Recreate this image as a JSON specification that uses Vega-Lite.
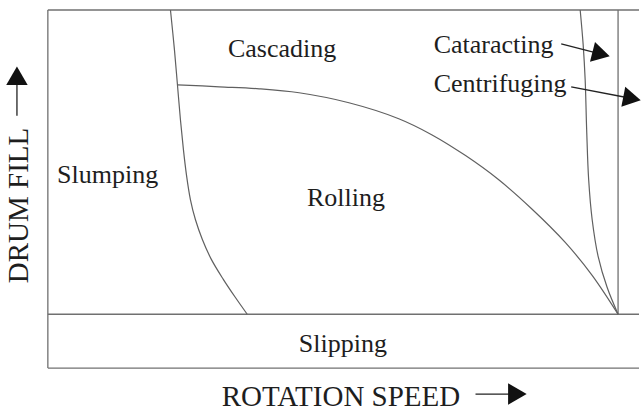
{
  "$schema": "https://vega.github.io/schema/vega-lite/v6.json",
  "width": 641,
  "height": 412,
  "padding": 0,
  "autosize": {"type": "fit", "contains": "padding"},
  "background": "white",
  "config": {"view": {"stroke": null}},
  "datasets": {
    "frame": [
      {"part": "top", "x": 48, "y": 10, "x2": 641, "y2": 10},
      {"part": "left", "x": 48, "y": 10, "x2": 48, "y2": 369},
      {"part": "bottom", "x": 48, "y": 369, "x2": 641, "y2": 369},
      {"part": "slipping limit", "x": 48, "y": 315, "x2": 641, "y2": 315},
      {"part": "critical speed", "x": 620, "y": 10, "x2": 620, "y2": 315}
    ],
    "curves": [
      {"curve": "slumping", "i": 0, "x": 171, "y": 10},
      {"curve": "slumping", "i": 1, "x": 175, "y": 50},
      {"curve": "slumping", "i": 2, "x": 178, "y": 85},
      {"curve": "slumping", "i": 3, "x": 181, "y": 120},
      {"curve": "slumping", "i": 4, "x": 184, "y": 150},
      {"curve": "slumping", "i": 5, "x": 187, "y": 175},
      {"curve": "slumping", "i": 6, "x": 191, "y": 200},
      {"curve": "slumping", "i": 7, "x": 196, "y": 220},
      {"curve": "slumping", "i": 8, "x": 203, "y": 240},
      {"curve": "slumping", "i": 9, "x": 212, "y": 260},
      {"curve": "slumping", "i": 10, "x": 224, "y": 280},
      {"curve": "slumping", "i": 11, "x": 236, "y": 298},
      {"curve": "slumping", "i": 12, "x": 248, "y": 315},
      {"curve": "rolling", "i": 0, "x": 178, "y": 85},
      {"curve": "rolling", "i": 1, "x": 220, "y": 87},
      {"curve": "rolling", "i": 2, "x": 260, "y": 89},
      {"curve": "rolling", "i": 3, "x": 300, "y": 93},
      {"curve": "rolling", "i": 4, "x": 350, "y": 103},
      {"curve": "rolling", "i": 5, "x": 400, "y": 119},
      {"curve": "rolling", "i": 6, "x": 433, "y": 135},
      {"curve": "rolling", "i": 7, "x": 467, "y": 156},
      {"curve": "rolling", "i": 8, "x": 500, "y": 180},
      {"curve": "rolling", "i": 9, "x": 533, "y": 209},
      {"curve": "rolling", "i": 10, "x": 567, "y": 243},
      {"curve": "rolling", "i": 11, "x": 594, "y": 276},
      {"curve": "rolling", "i": 12, "x": 620, "y": 315},
      {"curve": "cataracting", "i": 0, "x": 582, "y": 10},
      {"curve": "cataracting", "i": 1, "x": 585, "y": 45},
      {"curve": "cataracting", "i": 2, "x": 587, "y": 80},
      {"curve": "cataracting", "i": 3, "x": 588.5, "y": 130},
      {"curve": "cataracting", "i": 4, "x": 590.5, "y": 180},
      {"curve": "cataracting", "i": 5, "x": 594, "y": 220},
      {"curve": "cataracting", "i": 6, "x": 600, "y": 257},
      {"curve": "cataracting", "i": 7, "x": 609, "y": 288},
      {"curve": "cataracting", "i": 8, "x": 620, "y": 315}
    ],
    "shafts": [
      {"arrow": "cataracting", "x": 563, "y": 44, "x2": 600, "y2": 53.5},
      {"arrow": "centrifuging", "x": 573, "y": 87, "x2": 630, "y2": 98},
      {"arrow": "speed", "x": 477, "y": 395, "x2": 514, "y2": 395},
      {"arrow": "fill", "x": 17, "y": 116, "x2": 17, "y2": 80}
    ],
    "headCat": [{"x": 603, "y": 54.2}],
    "headCen": [{"x": 634, "y": 98.7}],
    "headSpeed": [{"x": 519, "y": 395}],
    "headFill": [{"x": 17, "y": 76}],
    "regions": [
      {"label": "Cascading", "x": 283, "y": 57},
      {"label": "Slumping", "x": 108, "y": 183},
      {"label": "Rolling", "x": 347, "y": 207},
      {"label": "Slipping", "x": 344, "y": 353}
    ],
    "pointers": [
      {"label": "Cataracting", "x": 435, "y": 53},
      {"label": "Centrifuging", "x": 435, "y": 92}
    ],
    "xtitle": [{"label": "ROTATION SPEED", "x": 342, "y": 407}],
    "ytitle": [{"label": "DRUM FILL", "x": 28, "y": 206}]
  },
  "encoding": {
    "x": {"field": "x", "type": "quantitative", "scale": {"domain": [0, 641], "nice": false, "zero": false}, "axis": null},
    "y": {"field": "y", "type": "quantitative", "scale": {"domain": [0, 412], "nice": false, "zero": false, "reverse": true}, "axis": null}
  },
  "layer": [
    {
      "data": {"name": "frame"},
      "mark": {"type": "rule", "stroke": "#707070", "strokeWidth": 1.3},
      "encoding": {"x2": {"field": "x2"}, "y2": {"field": "y2"}}
    },
    {
      "data": {"name": "curves"},
      "mark": {"type": "line", "stroke": "#606060", "strokeWidth": 1.2, "interpolate": "catmull-rom"},
      "encoding": {"detail": {"field": "curve"}, "order": {"field": "i", "type": "quantitative"}}
    },
    {
      "data": {"name": "shafts"},
      "mark": {"type": "rule", "stroke": "#222222", "strokeWidth": 1.3},
      "encoding": {"x2": {"field": "x2"}, "y2": {"field": "y2"}}
    },
    {
      "data": {"name": "headCat"},
      "mark": {"type": "point", "shape": "triangle-right", "filled": true, "color": "#111111", "opacity": 1, "size": 420, "angle": 14}
    },
    {
      "data": {"name": "headCen"},
      "mark": {"type": "point", "shape": "triangle-right", "filled": true, "color": "#111111", "opacity": 1, "size": 420, "angle": 11}
    },
    {
      "data": {"name": "headSpeed"},
      "mark": {"type": "point", "shape": "triangle-right", "filled": true, "color": "#111111", "opacity": 1, "size": 460}
    },
    {
      "data": {"name": "headFill"},
      "mark": {"type": "point", "shape": "triangle-up", "filled": true, "color": "#111111", "opacity": 1, "size": 460}
    },
    {
      "data": {"name": "regions"},
      "mark": {"type": "text", "font": "Liberation Serif", "fontSize": 26, "color": "#1e1e1e", "align": "center", "baseline": "alphabetic"},
      "encoding": {"text": {"field": "label"}}
    },
    {
      "data": {"name": "pointers"},
      "mark": {"type": "text", "font": "Liberation Serif", "fontSize": 26, "color": "#1e1e1e", "align": "left", "baseline": "alphabetic"},
      "encoding": {"text": {"field": "label"}}
    },
    {
      "data": {"name": "xtitle"},
      "mark": {"type": "text", "font": "Liberation Serif", "fontSize": 29, "color": "#1e1e1e", "align": "center", "baseline": "alphabetic"},
      "encoding": {"text": {"field": "label"}}
    },
    {
      "data": {"name": "ytitle"},
      "mark": {"type": "text", "font": "Liberation Serif", "fontSize": 29, "color": "#1e1e1e", "align": "center", "baseline": "alphabetic", "angle": 270},
      "encoding": {"text": {"field": "label"}}
    }
  ]
}
